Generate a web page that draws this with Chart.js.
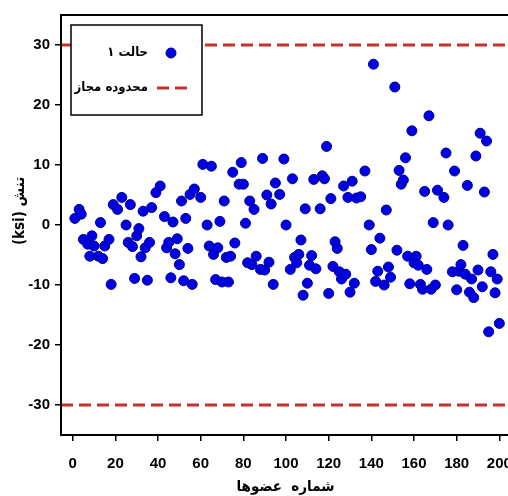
<!DOCTYPE html>
<html>
<head>
<meta charset="utf-8">
<script src="https://cdn.jsdelivr.net/npm/chart.js@4/dist/chart.umd.min.js"></script>
<style>
  html, body { margin: 0; padding: 0; background: #fff; overflow: hidden; }
  #wrap { width: 530px; height: 496px; }
</style>
</head>
<body>
<div id="wrap"><canvas id="stress-chart" width="530" height="496"></canvas></div>
<script>
// member numbers (x) and stress in ksi (y)
const memberNo = [
  1, 3, 4, 5, 7, 8, 9, 10, 12, 13,
  14, 15, 17, 18, 19, 21, 23, 25, 26, 27,
  28, 29, 30, 31, 32, 33, 34, 35, 36, 37,
  39, 41, 43, 44, 45, 46, 47, 48, 49, 50,
  51, 52, 53, 54, 55, 56, 57, 60, 61, 63,
  64, 65, 66, 67, 68, 69, 70, 71, 72, 73,
  74, 75, 76, 78, 79, 80, 81, 82, 83, 84,
  85, 86, 88, 89, 90, 91, 92, 93, 94, 95,
  97, 99, 100, 102, 103, 104, 105, 106, 107, 108,
  109, 110, 111, 112, 113, 114, 116, 117, 118, 119,
  120, 121, 122, 123, 124, 125, 126, 127, 128, 129,
  130, 131, 132, 133, 135, 137, 139, 140, 141, 142,
  143, 144, 146, 147, 148, 149, 151, 152, 153, 154,
  155, 156, 157, 158, 159, 160, 161, 162, 163, 164,
  165, 166, 167, 168, 169, 170, 171, 174, 175, 176,
  178, 179, 180, 181, 182, 183, 184, 185, 186, 187,
  188, 189, 190, 191, 192, 193, 194, 195, 196, 197,
  198, 199, 200
];
const stress = [
  1.1, 2.6, 1.8, -2.4, -3.2, -5.2, -1.8, -3.5, -5.2, 0.4,
  -5.6, -3.5, -2.4, -9.9, 3.4, 2.6, 4.6, 0, -2.9, 3.4,
  -3.6, -8.9, -1.8, -0.6, -5.3, 2.3, -3.8, -9.2, -2.9, 2.9,
  5.4, 6.5, 1.4, -3.8, -2.9, -8.8, 0.5, -4.8, -2.3, -6.6,
  4.0, -9.3, 1.1, -3.9, 5.1, -9.9, 6.0, 4.6, 10.1, 0,
  -3.5, 9.8, -4.9, -9.1, -3.8, 0.6, -9.5, 4.0, -5.4, -9.5,
  -5.2, 8.8, -3.0, 6.8, 10.4, 6.8, 0.3, -6.3, 4.0, -6.6,
  2.6, -5.2, -7.4, 11.1, -7.5, 5.0, -6.2, 3.5, -9.9, 7.0,
  5.1, 11.0, 0, -7.4, 7.7, -5.4, -6.3, -4.9, -2.5, -11.7,
  2.7, -9.7, -6.7, -5.1, 7.6, -7.3, 2.7, 8.2, 7.7, 13.1,
  -11.4, 4.4, -6.9, -2.8, -3.9, -7.8, -9.0, 6.5, -8.2, 4.6,
  -11.2, 7.3, -9.7, 4.5, 4.7, 9.0, 0, -4.1, 26.8, -9.4,
  -7.7, -2.2, -10.0, 2.5, -7.0, -8.7, 23.0, -4.2, 9.1, 6.8,
  7.5, 11.2, -5.2, -9.8, 15.7, -6.3, -5.2, -6.7, -9.9, -10.7,
  5.6, -7.4, 18.2, -10.7, 0.4, -10.0, 5.8, 4.6, 12.0, 0,
  -7.8, 9.0, -10.8, -7.7, -6.6, -3.4, -8.2, 6.6, -11.2, -9.0,
  -12.1, 11.5, -7.5, 15.3, -10.3, 5.5, 14.0, -17.8, -7.8, -4.9,
  -11.3, -9.0, -16.4
];
const allowedLimits = [30, -30];
const xTicks = [0, 20, 40, 60, 80, 100, 120, 140, 160, 180, 200];
const yTicks = [-30, -20, -10, 0, 10, 20, 30];
const xRange = [-5.5, 205];
const yRange = [-35, 35];

const seriesLabel = 'حالت ۱';
const limitLabel = 'محدوده مجاز';
const xTitle = 'شماره  عضوها';
const yTitle = '      (ksi) تنش';

const pointColor = '#0000e6';
const limitColor = '#c8302c';

const limitSets = allowedLimits.map((lvl, i) => ({
    type: 'line',
    label: limitLabel,
    data: xRange.map(x => ({ x: x, y: lvl })),
    borderColor: limitColor,
    borderWidth: 3,
    borderDash: [12, 6],
    pointRadius: 0,
    fill: false,
    hideInLegend: i > 0
}));

// frame round the plot area
const framePlugin = {
    id: 'frame',
    afterDraw(chart) {
        const { ctx, chartArea: a } = chart;
        ctx.save();
        ctx.strokeStyle = '#000';
        ctx.lineWidth = 2;
        ctx.strokeRect(a.left, a.top, a.right - a.left, a.bottom - a.top);
        ctx.restore();
    }
};

// legend box in the top left corner, symbols on the right (rtl)
const boxLegend = {
    id: 'boxLegend',
    afterDraw(chart) {
        const ctx = chart.ctx;
        const a = chart.chartArea;
        const x0 = a.left + 10, y0 = a.top + 10, w = 131, h = 90;
        ctx.save();
        ctx.fillStyle = '#fff';
        ctx.fillRect(x0, y0, w, h);
        ctx.strokeStyle = '#000';
        ctx.lineWidth = 1.5;
        ctx.strokeRect(x0, y0, w, h);

        const items = chart.data.datasets.filter(d => !d.hideInLegend);
        ctx.font = 'bold 13px "DejaVu Sans Condensed", "DejaVu Sans"';
        ctx.textAlign = 'right';
        ctx.textBaseline = 'middle';
        items.forEach((ds, i) => {
            const cy = y0 + 28 + i * 35;
            if (ds.type === 'line') {
                ctx.strokeStyle = ds.borderColor;
                ctx.lineWidth = 3;
                ctx.setLineDash([12, 6]);
                ctx.beginPath();
                ctx.moveTo(x0 + 86, cy);
                ctx.lineTo(x0 + 118, cy);
                ctx.stroke();
                ctx.setLineDash([]);
            } else {
                ctx.fillStyle = ds.backgroundColor;
                ctx.strokeStyle = ds.borderColor;
                ctx.lineWidth = 1;
                ctx.beginPath();
                ctx.arc(x0 + 100, cy, 5, 0, Math.PI * 2);
                ctx.fill();
                ctx.stroke();
            }
            ctx.fillStyle = '#000';
            ctx.fillText(ds.label, x0 + 77, cy);
        });
        ctx.restore();
    }
};

const tickFont = { family: '"Liberation Sans", Arial', size: 15, weight: 'bold' };
const titleFont = { family: '"DejaVu Sans Condensed", "DejaVu Sans"', size: 15, weight: 'bold' };

new Chart(document.querySelector('#stress-chart').getContext('2d'), {
    data: {
        datasets: [
            {
                type: 'scatter',
                label: seriesLabel,
                data: memberNo.map((m, i) => ({ x: m, y: stress[i] })),
                backgroundColor: pointColor,
                borderColor: '#00008b',
                borderWidth: 1,
                pointRadius: 5,
                pointHoverRadius: 5
            },
            ...limitSets
        ]
    },
    options: {
        responsive: false,
        animation: false,
        layout: { padding: { top: 15, right: 20, left: 0, bottom: 0 } },
        plugins: {
            legend: { display: false },
            tooltip: { enabled: false }
        },
        scales: {
            x: {
                type: 'linear',
                min: xRange[0],
                max: xRange[1],
                afterFit: s => { s.height = 61; },
                afterBuildTicks: s => { s.ticks = xTicks.map(v => ({ value: v })); },
                border: { display: false },
                grid: { drawOnChartArea: false, drawTicks: true, tickLength: 6, tickColor: '#000', lineWidth: 1.5 },
                ticks: { color: '#000', font: tickFont, padding: 14, maxRotation: 0, autoSkip: false },
                title: { display: true, text: xTitle, color: '#000', font: titleFont, padding: { top: 0, bottom: 0 } }
            },
            y: {
                type: 'linear',
                min: yRange[0],
                max: yRange[1],
                afterFit: s => { s.width = 61; },
                afterBuildTicks: s => { s.ticks = yTicks.map(v => ({ value: v })); },
                border: { display: false },
                grid: { drawOnChartArea: false, drawTicks: true, tickLength: 6, tickColor: '#000', lineWidth: 1.5 },
                ticks: { color: '#000', font: tickFont, padding: 5, autoSkip: false },
                title: { display: true, text: yTitle, color: '#000', font: titleFont, padding: { top: 11, bottom: 0 } }
            }
        }
    },
    plugins: [framePlugin, boxLegend]
});
</script>
</body>
</html>
